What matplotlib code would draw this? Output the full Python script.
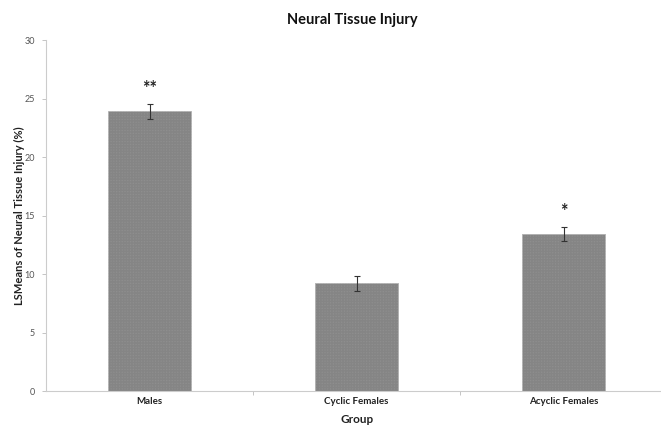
import numpy as np
import matplotlib.pyplot as plt
from matplotlib.ticker import FixedLocator

plt.rcParams['font.family'] = ['Lato', 'DejaVu Sans']

groups = ['Males', 'Cyclic Females', 'Acyclic Females']
lsmeans = [23.9, 9.2, 13.45]
sem = [0.65, 0.65, 0.6]
marks = ['**', '', '*']

fig = plt.figure(figsize=(6.61, 4.26), dpi=100)
ax = fig.add_axes([0.0696, 0.082, 0.94, 0.824])

x = np.arange(len(groups))
bars = ax.bar(x, lsmeans, width=0.40, color='#8e8e8e', edgecolor='#b5b5b5',
              linewidth=0.6, hatch='++++++', zorder=2)
for b in bars:
    b._hatch_color = (0.52, 0.52, 0.52, 1.0)
ax.errorbar(x, lsmeans, yerr=sem, fmt='none', ecolor='#333333',
            elinewidth=0.8, capsize=2.5, capthick=0.8, zorder=3)

for xi, m, v, e in zip(x, marks, lsmeans, sem):
    if m:
        ax.text(xi, v + e + 1.3, m, ha='center', va='center',
                fontsize=13, fontweight='bold', color='#222222')

ax.set_xlim(-0.5, 2.5)
ax.set_ylim(0, 30)
ax.set_yticks([0, 5, 10, 15, 20, 25, 30])
ax.tick_params(axis='y', labelsize=6.5, colors='#555555', length=3, width=0.6,
               color='#bbbbbb', pad=5)
ax.set_xticks(x)
ax.set_xticklabels(groups, fontsize=7, fontweight='bold', color='#222222')
ax.tick_params(axis='x', length=0, pad=4)
ax.xaxis.set_minor_locator(FixedLocator([0.5, 1.5]))
ax.tick_params(axis='x', which='minor', length=3, width=0.6, color='#bbbbbb')

for s in ['top', 'right']:
    ax.spines[s].set_visible(False)
for s in ['left', 'bottom']:
    ax.spines[s].set_color('#cccccc')
    ax.spines[s].set_linewidth(0.8)

ax.set_ylabel('LSMeans of Neural Tissue Injury (%)', fontsize=8,
              fontweight='bold', color='#222222')
ax.yaxis.set_label_coords(-0.034, 0.5)
ax.set_xlabel('Group', fontsize=8.5, fontweight='bold', color='#222222')
ax.xaxis.set_label_coords(0.5, -0.064)
fig.text(0.533, 0.953, 'Neural Tissue Injury', ha='center', va='center',
         fontsize=10.5, fontweight='bold', color='#111111')

fig.savefig('out.png', dpi=100)
